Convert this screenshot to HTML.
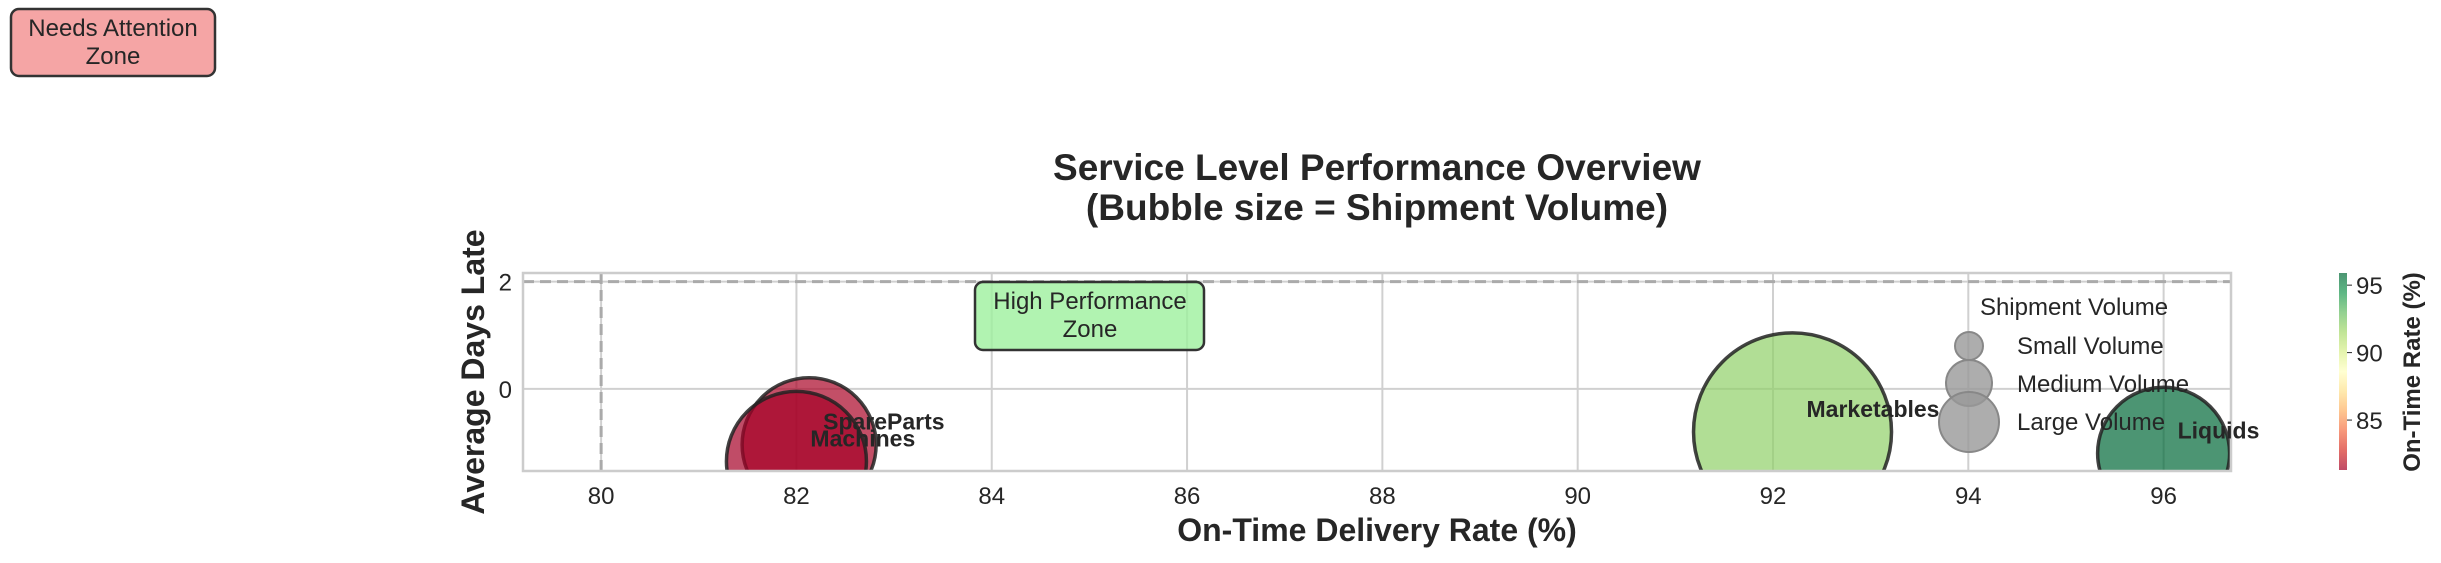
<!DOCTYPE html>
<html><head><meta charset="utf-8"><style>
html,body{margin:0;padding:0;background:#fff;}
svg{display:block;font-family:"Liberation Sans",Arial,sans-serif;}
</style></head><body>
<svg id="chart" width="2441" height="563" viewBox="0 0 2441 563" xmlns="http://www.w3.org/2000/svg">
<defs>
<clipPath id="plotclip"><rect x="523" y="273" width="1708" height="198"/></clipPath>
<linearGradient id="cbgrad" x1="0" y1="1" x2="0" y2="0">
<stop offset="0" stop-color="#a50026"/><stop offset="0.1" stop-color="#d73027"/><stop offset="0.2" stop-color="#f46d43"/><stop offset="0.3" stop-color="#fdae61"/><stop offset="0.4" stop-color="#fee08b"/><stop offset="0.5" stop-color="#ffffbf"/><stop offset="0.6" stop-color="#d9ef8b"/><stop offset="0.7" stop-color="#a6d96a"/><stop offset="0.8" stop-color="#66bd63"/><stop offset="0.9" stop-color="#1a9850"/><stop offset="1" stop-color="#006837"/>
</linearGradient>
</defs>
<g id="grid"></g>
<g id="bubbles" clip-path="url(#plotclip)"></g>
<rect x="523" y="273" width="1708" height="198" fill="none" stroke="#cccccc" stroke-width="2.5"/>
<g id="xticks"></g>
<g id="yticks"></g>
<text x="1377" y="180" text-anchor="middle" font-size="37" font-weight="bold" fill="#262626">Service Level Performance Overview</text>
<text x="1377" y="220" text-anchor="middle" font-size="37" font-weight="bold" fill="#262626">(Bubble size = Shipment Volume)</text>
<text x="1377" y="541" text-anchor="middle" font-size="32" font-weight="bold" fill="#262626">On-Time Delivery Rate (%)</text>
<text transform="translate(484,372) rotate(-90)" text-anchor="middle" font-size="32" font-weight="bold" fill="#262626">Average Days Late</text>
<g>
<rect x="975" y="282" width="229" height="68" rx="8" fill="#9ef09e" fill-opacity="0.8" stroke="#333" stroke-width="2.5"/>
<text x="1090" y="309" text-anchor="middle" font-size="24" fill="#262626">High Performance</text>
<text x="1090" y="337" text-anchor="middle" font-size="24" fill="#262626">Zone</text>
</g>
<g>
<rect x="11" y="9" width="204" height="67" rx="8" fill="#f4a0a0" fill-opacity="0.95" stroke="#333" stroke-width="2.5"/>
<text x="113" y="36" text-anchor="middle" font-size="24" fill="#262626">Needs Attention</text>
<text x="113" y="64" text-anchor="middle" font-size="24" fill="#262626">Zone</text>
</g>
<g>
<text x="2074" y="315" text-anchor="middle" font-size="24" fill="#262626">Shipment Volume</text>
<g><circle cx="1969" cy="346" r="14" fill="#999" fill-opacity="0.8" stroke="#888" stroke-width="2"/><text x="2017" y="354" font-size="24" fill="#262626">Small Volume</text></g>
<g><circle cx="1969" cy="383" r="23" fill="#999" fill-opacity="0.8" stroke="#888" stroke-width="2"/><text x="2017" y="392" font-size="24" fill="#262626">Medium Volume</text></g>
<g><circle cx="1969" cy="422" r="30" fill="#999" fill-opacity="0.8" stroke="#888" stroke-width="2"/><text x="2017" y="430" font-size="24" fill="#262626">Large Volume</text></g>
</g>
<g id="labels"></g>
<g>
<rect x="2339" y="273" width="8" height="197" fill="url(#cbgrad)" fill-opacity="0.7"/>
<g id="cbticks"></g>
<text transform="translate(2420,372) rotate(-90)" text-anchor="middle" font-size="24" font-weight="bold" fill="#262626">On-Time Rate (%)</text>
</g>
</svg>
<script>
const categories = ["SpareParts", "Machines", "Marketables", "Liquids"];
const onTimeRate = [82.13, 82.0, 92.2, 96.0];
const daysLate = [-1.04, -1.35, -0.8, -1.2];
const volume = [4489, 4900, 9800, 4356];
const xTicks = [80, 82, 84, 86, 88, 90, 92, 94, 96];
const yTicks = [0, 2];
const cbTicks = [85, 90, 95];

const NS = "http://www.w3.org/2000/svg";
const X0 = 523, X1 = 2231, XMIN = 79.2, XMAX = 96.69;
const Y0 = 471, Y1 = 273, YMIN = -1.53, YMAX = 2.16;
const CMIN = 81.3, CMAX = 95.9, CB0 = 470, CB1 = 273;
const xs = v => X0 + (v - XMIN) / (XMAX - XMIN) * (X1 - X0);
const ys = v => Y0 + (v - YMIN) / (YMAX - YMIN) * (Y1 - Y0);
const cs = v => CB0 + (v - CMIN) / (CMAX - CMIN) * (CB1 - CB0);
const stops = ["#a50026","#d73027","#f46d43","#fdae61","#fee08b","#ffffbf","#d9ef8b","#a6d96a","#66bd63","#1a9850","#006837"];
function cmap(v){
  let t = Math.max(0, Math.min(1, (v - 82) / (CMAX - 82))) * 10;
  const i = Math.min(9, Math.floor(t)), f = t - i;
  const a = stops[i], b = stops[i+1];
  const c = k => Math.round(parseInt(a.substr(k,2),16)*(1-f) + parseInt(b.substr(k,2),16)*f);
  return `rgb(${c(1)},${c(3)},${c(5)})`;
}
function mk(tag, attrs, parent){
  const e = document.createElementNS(NS, tag);
  for (const k in attrs) e.setAttribute(k, attrs[k]);
  parent.appendChild(e);
  return e;
}
const grid = document.getElementById("grid");
xTicks.forEach(t => {
  const l = mk("line", {x1: xs(t), x2: xs(t), y1: Y1, y2: Y0, stroke: "#d0d0d0", "stroke-width": 2}, grid);
  
  
  const tx = mk("text", {x: xs(t), y: 504, "text-anchor": "middle", "font-size": 24, fill: "#262626"}, document.getElementById("xticks"));
  tx.textContent = t;
  
  
});
yTicks.forEach(t => {
  const l = mk("line", {x1: X0, x2: X1, y1: ys(t), y2: ys(t), stroke: "#d0d0d0", "stroke-width": 2}, grid);
  
  
  const tx = mk("text", {x: 512, y: ys(t) + 9, "text-anchor": "end", "font-size": 24, fill: "#262626"}, document.getElementById("yticks"));
  tx.textContent = t;
  
  
});
const hl = mk("line", {x1: X0, x2: X1, y1: ys(2), y2: ys(2), stroke: "#aaaaaa", "stroke-width": 3, "stroke-dasharray": "11,6"}, grid);


const vl = mk("line", {x1: xs(80), x2: xs(80), y1: Y1, y2: Y0, stroke: "#aaaaaa", "stroke-width": 3, "stroke-dasharray": "11,6"}, grid);



const bub = document.getElementById("bubbles"), lab = document.getElementById("labels");
categories.forEach((c, i) => {
  const b = mk("circle", {cx: xs(onTimeRate[i]), cy: ys(daysLate[i]), r: Math.sqrt(volume[i]), fill: cmap(onTimeRate[i]), "fill-opacity": 0.7, stroke: "#222", "stroke-width": 3.5, "stroke-opacity": 0.85}, bub);
  
  
  const t = mk("text", {x: xs(onTimeRate[i]) + 14, y: ys(daysLate[i]) - 15, "font-size": 23, "font-weight": "bold", fill: "#262626"}, lab);
  t.textContent = c;
  
  
});
const cbt = document.getElementById("cbticks");
cbTicks.forEach(t => {
  const l = mk("line", {x1: 2347, x2: 2352, y1: cs(t), y2: cs(t), stroke: "#262626", "stroke-width": 1}, cbt);
  
  
  const tx = mk("text", {x: 2356, y: cs(t) + 9, "font-size": 24, fill: "#262626"}, cbt);
  tx.textContent = t;
  
  
});
</script>
</body></html>
